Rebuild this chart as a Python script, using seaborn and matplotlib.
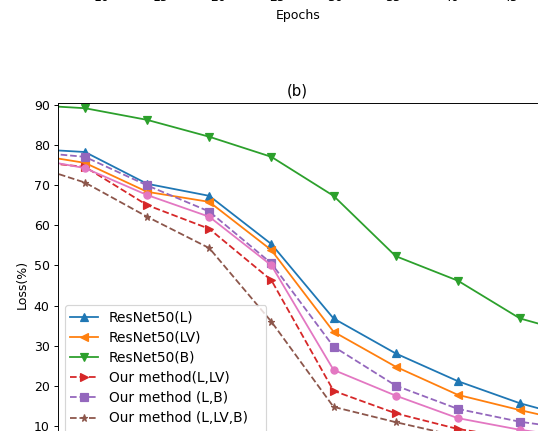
import numpy as np
import pandas as pd
import matplotlib
matplotlib.use("Agg")
import matplotlib.pyplot as plt
import seaborn as sns

# ---- data ----
epochs = [0, 5, 10, 15, 20, 25, 30, 35, 40, 45]
resnet_L = [79.1, 78.2, 70.3, 67.3, 55.3, 36.8, 28.1, 21.2, 15.7, 11.5]
resnet_LV = [78.0, 75.5, 68.3, 65.8, 53.8, 33.5, 24.8, 17.8, 14.0, 10.5]
resnet_B = [90.0, 89.1, 86.2, 82.0, 77.0, 67.3, 52.3, 46.2, 36.8, 32.5]
ours_L_LV = [76.1, 74.5, 65.0, 59.1, 46.3, 18.8, 13.2, 9.3, 7.0, 5.0]
ours_L_B = [78.4, 77.0, 69.9, 63.4, 50.5, 29.8, 20.1, 14.3, 11.1, 9.0]
ours_L_LV_B = [75.6, 70.6, 62.1, 54.3, 36.0, 14.8, 11.0, 7.5, 5.5, 4.0]
ours_extra = [77.0, 74.2, 67.5, 62.1, 50.0, 24.0, 17.6, 12.0, 9.1, 7.0]

labels = ["ResNet50(L)", "ResNet50(LV)", "ResNet50(B)", "Our method(L,LV)",
          "Our method (L,B)", "Our method (L,LV,B)", "Our method (L,LV,B,E)"]
series = [resnet_L, resnet_LV, resnet_B, ours_L_LV, ours_L_B, ours_L_LV_B, ours_extra]
top_ticks = [10, 15, 20, 25, 30, 35, 40, 45]

# ---- styles ----
palette = sns.color_palette("tab10")
colors = [palette[i] for i in range(7)]
markers = ["^", "<", "v", ">", "s", "*", "o"]
styles = ["-", "-", "-", "--", "--", "--", "-"]

plt.rcParams["font.family"] = ["DejaVu Sans"]
plt.rcParams["font.size"] = 10.5

W, H, DPI = 538, 431, 86
fig = plt.figure(figsize=(W / DPI, H / DPI), dpi=DPI)

# upper subplot (only its bottom edge labels are visible in the crop)
ax_top = fig.add_axes([58 / W, (H + 17) / H, 479.5 / W, 0.3])
ax_top.set_xlim(6.23, 47.36)
ax_top.set_xticks(top_ticks)
ax_top.set_xlabel("Epochs")

# subplot (b)
top_px = 102.7
ymax = 90.47
px_per_unit = 4.02
height_px = ymax * px_per_unit
bottom_px = top_px + height_px
ax = fig.add_axes([58 / W, (H - bottom_px) / H, 479.5 / W, height_px / H])

for vals, lab, c, m, ls in zip(series, labels, colors, markers, styles):
    df = pd.DataFrame({"Epochs": epochs, "Loss": vals})
    sns.lineplot(data=df, x="Epochs", y="Loss", ax=ax, color=c, marker=m,
                 linestyle=ls, label=lab, markeredgecolor=c,
                 markeredgewidth=1.0, markersize=6, linewidth=1.5)

ax.set_xlim(2.83, 41.41)
ax.set_ylim(0, ymax)
ax.set_yticks([0, 10, 20, 30, 40, 50, 60, 70, 80, 90])
ax.set_xticks([5, 10, 15, 20, 25, 30, 35, 40])
ax.set_xlabel("Epochs")
ax.set_ylabel("Loss(%)")
ax.set_title("(b)", fontsize=12.5)
leg_x = (65 - 58) / 479.5
leg_y = (bottom_px - 305) / height_px
ax.legend(loc="upper left", bbox_to_anchor=(leg_x, leg_y), borderaxespad=0,
          fontsize=11.5, labelspacing=0.45, handlelength=2.0,
          handletextpad=0.8)

fig.savefig("out.png", dpi=DPI)
